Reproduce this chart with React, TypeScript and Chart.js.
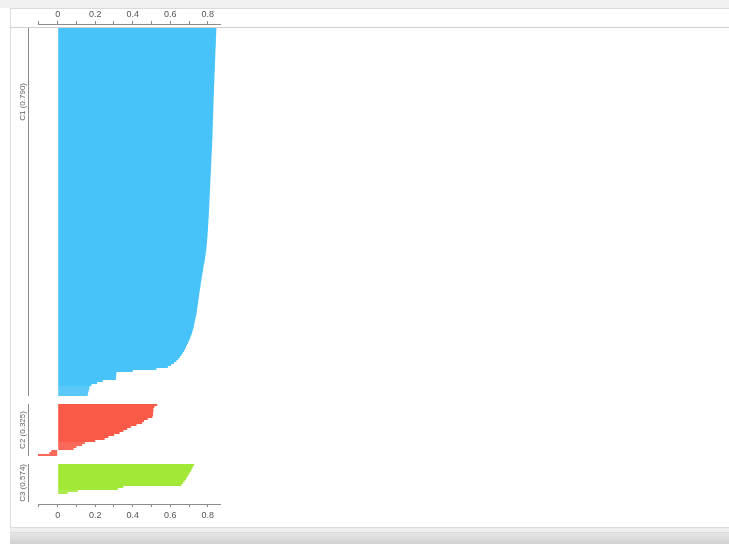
import { useEffect, useRef } from 'react';
import { Chart, registerables } from 'chart.js';

Chart.register(...registerables);

// ---------- data ----------
const clusterNames = ['C1 (0.790)', 'C2 (0.325)', 'C3 (0.574)'];

const c1Values = [
  0.846, 0.845, 0.845, 0.844, 0.844, 0.843, 0.843, 0.843, 0.842, 0.842,
  0.841, 0.841, 0.840, 0.840, 0.840, 0.839, 0.839, 0.838, 0.838, 0.838,
  0.837, 0.837, 0.836, 0.836, 0.835, 0.835, 0.835, 0.834, 0.834, 0.833,
  0.833, 0.833, 0.832, 0.832, 0.831, 0.831, 0.831, 0.830, 0.830, 0.830,
  0.829, 0.829, 0.829, 0.828, 0.828, 0.828, 0.827, 0.827, 0.827, 0.826,
  0.826, 0.826, 0.825, 0.825, 0.825, 0.824, 0.824, 0.823, 0.823, 0.822,
  0.822, 0.821, 0.821, 0.820, 0.820, 0.819, 0.819, 0.818, 0.818, 0.817,
  0.817, 0.816, 0.816, 0.815, 0.815, 0.814, 0.814, 0.813, 0.813, 0.812,
  0.812, 0.811, 0.811, 0.810, 0.810, 0.809, 0.809, 0.808, 0.808, 0.807,
  0.807, 0.806, 0.806, 0.805, 0.805, 0.804, 0.803, 0.803, 0.802, 0.801,
  0.801, 0.800, 0.799, 0.799, 0.798, 0.797, 0.796, 0.795, 0.794, 0.793,
  0.792, 0.791, 0.789, 0.788, 0.786, 0.785, 0.783, 0.781, 0.779, 0.777,
  0.775, 0.774, 0.772, 0.770, 0.768, 0.767, 0.765, 0.763, 0.762, 0.760,
  0.758, 0.757, 0.755, 0.754, 0.752, 0.751, 0.749, 0.748, 0.746, 0.745,
  0.743, 0.742, 0.740, 0.738, 0.736,
  0.733, 0.731, 0.729, 0.727, 0.725, 0.722, 0.719, 0.716, 0.712, 0.708,
  0.704, 0.699, 0.694, 0.689, 0.684, 0.679, 0.673, 0.667, 0.660, 0.652,
  0.643, 0.633, 0.620, 0.605, 0.587,
  0.526, 0.400, 0.313, 0.312, 0.311, 0.310, 0.240, 0.210, 0.180, 0.170,
  0.168, 0.165, 0.162, 0.160,
];

const c2Values = [
  0.530, 0.515, 0.510, 0.510, 0.508, 0.508, 0.505, 0.480, 0.460, 0.450,
  0.420, 0.390, 0.370, 0.350, 0.330, 0.300, 0.270, 0.250, 0.200, 0.145,
  0.130, 0.100, 0.085, -0.035, -0.045, -0.105,
];

const c3Values = [
  0.727, 0.720, 0.715, 0.710, 0.703, 0.697, 0.690, 0.684, 0.677, 0.668,
  0.660, 0.350, 0.320, 0.107, 0.053,
];

const tickValues = [-0.1, 0, 0.1, 0.2, 0.3, 0.4, 0.5, 0.6, 0.7, 0.8];
const tickLabels = ['', '0', '', '0.2', '', '0.4', '', '0.6', '', '0.8'];

const axisMin = -0.105;
const axisMax = 0.865;

// ---------- styling / layout ----------
const clusterColors = ['#48C3F9', '#F95A48', '#A2E836'];
const TOP_PAD_ROWS = 2;
const GAP_ROWS = 4;
const BOTTOM_PAD_ROWS = 5;
const FONT = "'Liberation Sans', Arial, Helvetica, sans-serif";

export default function App() {
  const ref = useRef<HTMLCanvasElement | null>(null);

  useEffect(() => {
    const canvas = ref.current;
    if (!canvas) return;

    const groups = [c1Values, c2Values, c3Values];
    const values: (number | null)[] = [];
    const colors: string[] = [];
    const ranges: { start: number; end: number }[] = [];
    for (let i = 0; i < TOP_PAD_ROWS; i++) { values.push(null); colors.push('transparent'); }
    groups.forEach((g, gi) => {
      if (gi > 0) for (let i = 0; i < GAP_ROWS; i++) { values.push(null); colors.push('transparent'); }
      const start = values.length;
      g.forEach((v) => { values.push(v); colors.push(clusterColors[gi]); });
      ranges.push({ start, end: values.length - 1 });
    });
    for (let i = 0; i < BOTTOM_PAD_ROWS; i++) { values.push(null); colors.push('transparent'); }
    const labels = values.map((_, i) => String(i));

    const framePlugin = {
      id: 'frame',
      beforeDraw(chart: any) {
        const ctx = chart.ctx as CanvasRenderingContext2D;
        const W = chart.width, H = chart.height;
        ctx.save();
        ctx.fillStyle = '#ffffff';
        ctx.fillRect(0, 0, W, H);
        ctx.fillStyle = '#f1f1f1';
        ctx.fillRect(0, 0, W, 8);
        ctx.fillStyle = '#dadada';
        ctx.fillRect(10, 8, W - 10, 1);
        ctx.fillRect(10, 8, 1, 520);
        ctx.fillStyle = '#cfcfcf';
        ctx.fillRect(10, 27, W - 10, 1);
        // bottom bar
        ctx.fillStyle = '#dcdcdc';
        ctx.fillRect(10, 527, W - 10, 1);
        ctx.fillStyle = '#eeeeee';
        ctx.fillRect(10, 528, W - 10, 4);
        ctx.fillStyle = '#d9d9d9';
        ctx.fillRect(10, 532, W - 10, 1);
        const grd = ctx.createLinearGradient(0, 533, 0, H);
        grd.addColorStop(0, '#e6e6e6');
        grd.addColorStop(1, '#d2d2d2');
        ctx.fillStyle = grd;
        ctx.fillRect(10, 533, W - 10, H - 533);
        ctx.restore();
      },
      afterDraw(chart: any) {
        const ctx = chart.ctx as CanvasRenderingContext2D;
        const y = chart.scales.y;
        const half = Math.abs(y.getPixelForValue(1) - y.getPixelForValue(0)) / 2;
        ctx.save();
        ctx.font = `8px ${FONT}`;
        ranges.forEach((r, i) => {
          const top = y.getPixelForValue(r.start) - half;
          const bottom = y.getPixelForValue(r.end) + half;
          const w = ctx.measureText(clusterNames[i]).width;
          let center: number;
          if (i === 0) center = top + 55 + w / 2;
          else if (i === 1) center = (top + bottom) / 2;
          else center = top + w / 2;
          const lTop = Math.min(top, center - w / 2);
          const lBot = Math.max(bottom, center + w / 2);
          ctx.fillStyle = '#8a8a8a';
          ctx.fillRect(28, Math.round(lTop), 1, Math.round(lBot - lTop));
          ctx.save();
          ctx.translate(23, center);
          ctx.rotate(-Math.PI / 2);
          ctx.fillStyle = '#5e5e5e';
          ctx.textAlign = 'center';
          ctx.textBaseline = 'middle';
          ctx.fillText(clusterNames[i], 0, 0);
          ctx.restore();
        });
        ctx.restore();
      },
    };

    const makeX = (position: 'top' | 'bottom', height: number, pad: number) => ({
      type: 'linear',
      position,
      min: axisMin,
      max: axisMax,
      afterBuildTicks: (scale: any) => {
        scale.ticks = tickValues.map((v) => ({ value: v }));
      },
      afterFit: (scale: any) => {
        scale.height = height;
      },
      ticks: {
        autoSkip: false,
        maxRotation: 0,
        minRotation: 0,
        padding: pad,
        color: '#555555',
        font: { family: FONT, size: 9 },
        callback: (_v: any, idx: number) => tickLabels[idx] ?? '',
      },
      grid: {
        drawOnChartArea: false,
        drawTicks: true,
        tickLength: 3,
        color: '#8c8c8c',
      },
      border: { display: true, color: '#8c8c8c', width: 1 },
    });

    const chart = new Chart(canvas, {
      type: 'bar',
      data: {
        labels,
        datasets: [
          {
            data: values as any,
            backgroundColor: colors,
            borderWidth: 0,
            barPercentage: 0.9,
            categoryPercentage: 1,
            xAxisID: 'x',
            yAxisID: 'y',
          },
        ],
      },
      options: {
        indexAxis: 'y',
        animation: false,
        responsive: false,
        layout: { padding: { left: 38, right: 729 - 220, top: 8, bottom: 21 } },
        plugins: { legend: { display: false }, tooltip: { enabled: false } },
        scales: {
          x: makeX('bottom', 19, 3) as any,
          x2: makeX('top', 16, 1) as any,
          y: { type: 'category', display: false, offset: true },
        },
      },
      plugins: [framePlugin],
    });

    return () => chart.destroy();
  }, []);

  return (
    <div style={{ position: 'fixed', left: 0, top: 0, width: 729, height: 544 }}>
      <canvas ref={ref} width={729} height={544} style={{ display: 'block' }} />
    </div>
  );
}
